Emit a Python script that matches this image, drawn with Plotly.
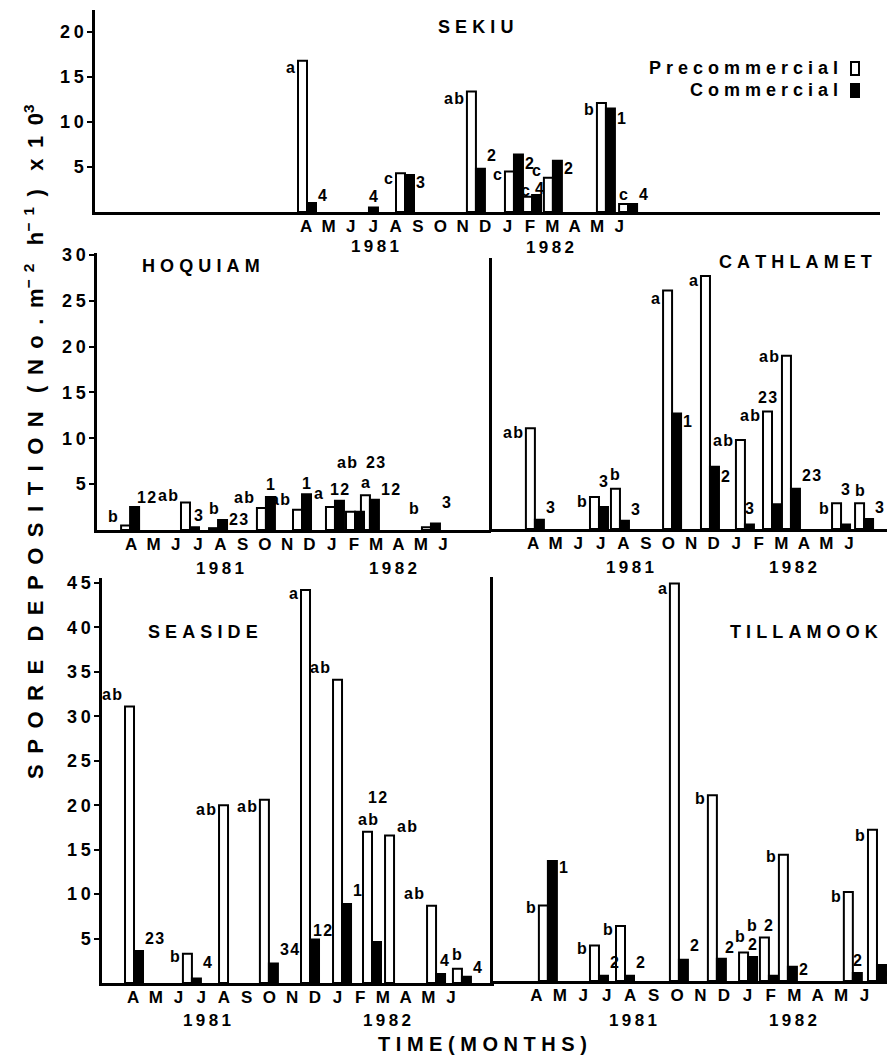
import plotly.graph_objects as go

W, H = 895, 1060
OFF = 8                      # page body margin of the browser
FW, FH = W - OFF, H - OFF
FONT = "Liberation Sans"
THIN = "\u2009"
HAIR = "\u200a"
NBSP = "\u00a0"

# ---------------- data ----------------
MONTH_LABELS = ["A", "M", "J", "J", "A", "S", "O", "N", "D", "J", "F", "M", "A", "M", "J"]  # Apr 1981 .. Jun 1982
MONTH_IDX = list(range(15))
YEARS = ["1981", "1982"]

# sampling time in months after 1 April 1981 (as plotted), and spore deposition (x10^3)
# SEKIU
sekiu_t = [0.04, 2.81, 4.42, 7.59, 9.29, 10.10, 11.03, 13.40, 14.39]
sekiu_pre = [16.8, None, 4.3, 13.4, 4.5, 1.7, 3.8, 12.1, 0.9]
sekiu_com = [1.0, 0.5, 4.1, 4.8, 6.4, 1.9, 5.7, 11.5, 0.9]
sekiu_pre_lab = ["a", "", "c", "ab", "c", "c", "c", "b", "c"]
sekiu_com_lab = ["4", "4", "3", "2", "2", "4", "2", "1", "4"]

# HOQUIAM
hoq_t = [-0.05, 2.64, 3.90, 6.05, 7.67, 9.15, 10.05, 10.72, 13.46]
hoq_pre = [0.5, 3.0, 0.2, 2.4, 2.2, 2.5, 2.0, 3.8, 0.3]
hoq_com = [2.5, 0.3, 1.1, 3.6, 3.9, 3.2, 2.0, 3.3, 0.7]
hoq_pre_lab = ["b", "ab", "b", "ab", "ab", "a", "ab", "a", "b"]
hoq_com_lab = ["12", "3", "23", "1", "1", "12", "23", "12", "3"]

# CATHLAMET
cat_t = [0.08, 2.92, 3.85, 6.16, 7.84, 9.39, 10.59, 11.43, 13.65, 14.67]
cat_pre = [11.0, 3.5, 4.4, 26.0, 27.6, 9.7, 12.8, 18.9, 2.8, 2.8]
cat_com = [1.0, 2.4, 0.9, 12.6, 6.8, 0.5, 2.7, 4.4, 0.5, 1.1]
cat_pre_lab = ["ab", "b", "b", "a", "a", "ab", "ab", "ab", "b", "b"]
cat_com_lab = ["3", "3", "3", "1", "2", "3", "23", "23", "3", "3"]

# SEASIDE
sea_t = [0.04, 2.59, 4.18, 5.98, 7.79, 9.20, 10.52, 11.49, 13.34, 14.48]
sea_pre = [31.1, 3.3, 20.0, 20.6, 44.2, 34.1, 17.0, 16.6, 8.7, 1.6]
sea_com = [3.6, 0.5, None, 2.2, 4.9, 8.9, 4.6, None, 1.0, 0.7]
sea_pre_lab = ["ab", "b", "ab", "ab", "a", "ab", "ab", "ab", "ab", "b"]
sea_com_lab = ["23", "4", "", "34", "12", "1", "12", "", "4", "4"]

# TILLAMOOK
til_t = [0.49, 2.67, 3.78, 6.08, 7.70, 9.03, 9.92, 10.73, 13.50, 14.53]
til_pre = [8.5, 4.0, 6.2, 44.7, 20.9, 3.2, 4.9, 14.2, 10.0, 17.0]
til_com = [13.5, 0.6, 0.6, 2.4, 2.5, 2.7, 0.6, 1.6, 0.9, 1.8]
til_pre_lab = ["b", "b", "b", "a", "b", "b", "b", "b", "b", "b"]
til_com_lab = ["1", "2", "2", "2", "2", "2", "2", "2", "2", "2"]

# ---------------- label placement (style) ----------------
# side: l = left of pre bar, r = right of comm bar, p = above pre, c = above comm,
#       m = above pair, q = right of pre bar ; number = vertical shift (px), optional dx
sekiu_pre_pos = ["l-7", "", "l-5", "l-7", "l-3", "p6,-2", "l7", "l-6", "p9"]
sekiu_com_pos = ["r7", "c11", "r-7", "r13", "r-9", "c6,3", "r-8", "r-10", "r9"]
hoq_pre_pos = ["l9", "l7", "p20", "l10", "l10", "l14", "m49,-8", "p13", "l19"]
hoq_com_pos = ["r10,-4", "c12,4", "r0", "c12", "c11", "c11", "m49,20", "r10", "r21"]
cat_pre_pos = ["l-4", "l-5", "p14", "l-8", "l-5", "l0", "l-4", "l-1", "l-5", "p13"]
cat_com_pos = ["r12", "c25", "r11", "r-8", "r-10", "c16", "p14", "r13", "c35", "r11"]
sea_pre_pos = ["l12", "l-3", "l-4", "l-7", "l-3", "l12", "p12", "q9", "l12", "p14"]
sea_com_pos = ["r13", "r16", "", "r14", "r9,-8", "r13", "m34,5", "", "c14,4", "r9"]
til_pre_pos = ["l-2", "l-3", "l-4", "l-5", "l-3", "p16,-4", "l12", "l-2", "l-4", "l-6"]
til_com_pos = ["r-7", "r13", "r13", "r14", "r11,-3", "c13", "m12", "r-3", "c13", "r-5,-4"]

# ---------------- layout of panels (pixels of the page) ----------------
panels = [
    dict(name="SEKIU", x0=95, x1=880, yt=10, yb=212, c=306.1, s=22.375, unit=9.0,
         ticks=[5, 10, 15, 20], showy=True, title=(476, 27),
         years=[(375, 246), (550, 247)],
         t=sekiu_t, pre=sekiu_pre, com=sekiu_com,
         plab=sekiu_pre_lab, clab=sekiu_com_lab, ppos=sekiu_pre_pos, cpos=sekiu_com_pos),
    dict(name="HOQUIAM", x0=97, x1=491, yt=253, yb=530, c=131.2, s=22.27, unit=9.17,
         ticks=[5, 10, 15, 20, 25, 30], showy=True, title=(201, 266),
         years=[(220, 568), (393, 568)],
         t=hoq_t, pre=hoq_pre, com=hoq_com,
         plab=hoq_pre_lab, clab=hoq_com_lab, ppos=hoq_pre_pos, cpos=hoq_com_pos),
    dict(name="CATHLAMET", x0=492, x1=888, yt=258, yb=529, c=533.1, s=22.56, unit=9.17,
         ticks=[], showy=False, title=(795, 262),
         years=[(630, 567), (793, 567)],
         t=cat_t, pre=cat_pre, com=cat_com,
         plab=cat_pre_lab, clab=cat_com_lab, ppos=cat_pre_pos, cpos=cat_com_pos),
    dict(name="SEASIDE", x0=102, x1=494, yt=578, yb=983, c=133.1, s=22.71, unit=8.89,
         ticks=[5, 10, 15, 20, 25, 30, 35, 40, 45], showy=True, title=(203, 632),
         years=[(207, 1020), (387, 1020)],
         t=sea_t, pre=sea_pre, com=sea_com,
         plab=sea_pre_lab, clab=sea_com_lab, ppos=sea_pre_pos, cpos=sea_com_pos),
    dict(name="TILLAMOOK", x0=493, x1=893, yt=577, yb=981, c=536.4, s=23.44, unit=8.89,
         ticks=[], showy=False, title=(804, 632),
         years=[(633, 1020), (793, 1020)],
         t=til_t, pre=til_pre, com=til_com,
         plab=til_pre_lab, clab=til_com_lab, ppos=til_pre_pos, cpos=til_com_pos),
]

BAR_PX = 9.0
LINE_W = 2.5


def sp(text, gap=THIN):
    return gap.join(text)


def px_x(px):
    return (px - OFF) / FW


def px_y(py):
    return 1 - (py - OFF) / FH


fig = go.Figure()
annotations = []
layout = {}

bold = dict(family=FONT, color="black", weight="bold")

for k, p in enumerate(panels, start=1):
    xa = "x" if k == 1 else f"x{k}"
    ya = "y" if k == 1 else f"y{k}"
    w = BAR_PX / p["s"]
    xr = [(p["x0"] - p["c"]) / p["s"], (p["x1"] - p["c"]) / p["s"]]
    yr = [0, (p["yb"] - p["yt"]) / p["unit"]]

    fig.add_trace(go.Bar(
        x=p["t"], y=p["pre"], width=w, offset=-w,
        marker=dict(color="white", line=dict(color="black", width=2)),
        xaxis=xa, yaxis=ya, showlegend=False, name="Precommercial"))
    fig.add_trace(go.Bar(
        x=p["t"], y=p["com"], width=w, offset=0,
        marker=dict(color="black", line=dict(color="black", width=2)),
        xaxis=xa, yaxis=ya, showlegend=False, name="Commercial"))

    kx = "xaxis" if k == 1 else f"xaxis{k}"
    ky = "yaxis" if k == 1 else f"yaxis{k}"
    layout[kx] = dict(
        domain=[px_x(p["x0"]), px_x(p["x1"])], range=xr, anchor=ya,
        tickmode="array", tickvals=MONTH_IDX, ticktext=MONTH_LABELS,
        showline=True, linecolor="black", linewidth=LINE_W, ticks="", ticklen=0,
        showgrid=False, zeroline=False, tickfont=dict(size=17, **bold),
        ticklabelstandoff=-3, automargin=False, fixedrange=True)
    layout[ky] = dict(
        domain=[px_y(p["yb"]), px_y(p["yt"])], range=yr, anchor=xa,
        tickmode="array", tickvals=p["ticks"],
        ticktext=[sp(str(t), THIN) for t in p["ticks"]],
        showticklabels=p["showy"], ticks="outside" if p["showy"] else "",
        ticklen=5, tickwidth=2, tickcolor="black",
        showline=True, linecolor="black", linewidth=LINE_W,
        showgrid=False, zeroline=False, tickfont=dict(size=18, **bold),
        automargin=False, fixedrange=True)

    tx, ty = p["title"]
    annotations.append(dict(x=px_x(tx), y=px_y(ty), xref="paper", yref="paper",
                            text=sp(p["name"], THIN + HAIR), showarrow=False,
                            font=dict(size=18, **bold), xanchor="center", yanchor="middle"))
    for (yx, yy), yr_txt in zip(p["years"], YEARS):
        annotations.append(dict(x=px_x(yx), y=px_y(yy), xref="paper", yref="paper",
                                text=sp(yr_txt), showarrow=False,
                                font=dict(size=17, **bold), xanchor="center", yanchor="middle"))

    def add_label(m, text, pos, pv, cv):
        if not text or not pos:
            return
        side = pos[0]
        parts = pos[1:].split(",")
        dy = float(parts[0]) if parts[0] else 0.0
        dx = float(parts[1]) if len(parts) > 1 else 0.0
        pv0 = pv or 0.0
        cv0 = cv or 0.0
        if side == "l":
            x, y, xan, dx2 = m - w, pv0, "right", -2
        elif side == "r":
            x, y, xan, dx2 = m + w, cv0, "left", 1
        elif side == "p":
            x, y, xan, dx2 = m - w / 2, pv0, "center", 0
        elif side == "c":
            x, y, xan, dx2 = m + w / 2, cv0, "center", 0
        elif side == "q":
            x, y, xan, dx2 = m, pv0, "left", 2
        else:  # m
            x, y, xan, dx2 = m, max(pv0, cv0), "center", 0
        annotations.append(dict(x=x, y=y, xref=xa, yref=ya, text=sp(text, HAIR), showarrow=False,
                                xanchor=xan, yanchor="middle", xshift=dx + dx2, yshift=dy,
                                borderpad=0, font=dict(size=16, **bold)))

    for i, m in enumerate(p["t"]):
        add_label(m, p["plab"][i], p["ppos"][i], p["pre"][i], p["com"][i])
        add_label(m, p["clab"][i], p["cpos"][i], p["pre"][i], p["com"][i])

# axis titles
G = NBSP + THIN
WG = NBSP * 3
ytitle = (sp("SPORE", G) + WG + sp("DEPOSITION", G) + WG + sp("(No.", G) + G + "m<sup>" + sp("−2", G) +
          "</sup>" + WG + "h<sup>" + sp("−1", G) + "</sup>" + G + ")" + WG + sp("x10", G) + "<sup>3</sup>")
annotations.append(dict(x=px_x(34), y=px_y(442), xref="paper", yref="paper", text=ytitle,
                        textangle=-90, showarrow=False, font=dict(size=22, **bold),
                        xanchor="center", yanchor="middle"))
annotations.append(dict(x=px_x(482), y=px_y(1044), xref="paper", yref="paper",
                        text=sp("TIME(MONTHS)", NBSP), showarrow=False, font=dict(size=20, **bold),
                        xanchor="center", yanchor="middle"))

# legend (text + boxes)
annotations.append(dict(x=px_x(840), y=px_y(68), xref="paper", yref="paper",
                        text=sp("Precommercial", NBSP), showarrow=False,
                        font=dict(size=18, **bold), xanchor="right", yanchor="middle"))
annotations.append(dict(x=px_x(840), y=px_y(90), xref="paper", yref="paper",
                        text=sp("Commercial", NBSP), showarrow=False,
                        font=dict(size=18, **bold), xanchor="right", yanchor="middle"))
shapes = [
    dict(type="rect", xref="paper", yref="paper", x0=px_x(851), x1=px_x(859),
         y0=px_y(75), y1=px_y(62), line=dict(color="black", width=2), fillcolor="white"),
    dict(type="rect", xref="paper", yref="paper", x0=px_x(851), x1=px_x(859),
         y0=px_y(97), y1=px_y(84), line=dict(color="black", width=2), fillcolor="black"),
]

fig.update_layout(
    width=FW, height=FH, margin=dict(l=0, r=0, t=0, b=0, autoexpand=False),
    paper_bgcolor="white", plot_bgcolor="white", barmode="overlay",
    annotations=annotations, shapes=shapes, showlegend=False,
    font=dict(family=FONT, color="black"),
    **layout)

fig.write_html("out.html")
